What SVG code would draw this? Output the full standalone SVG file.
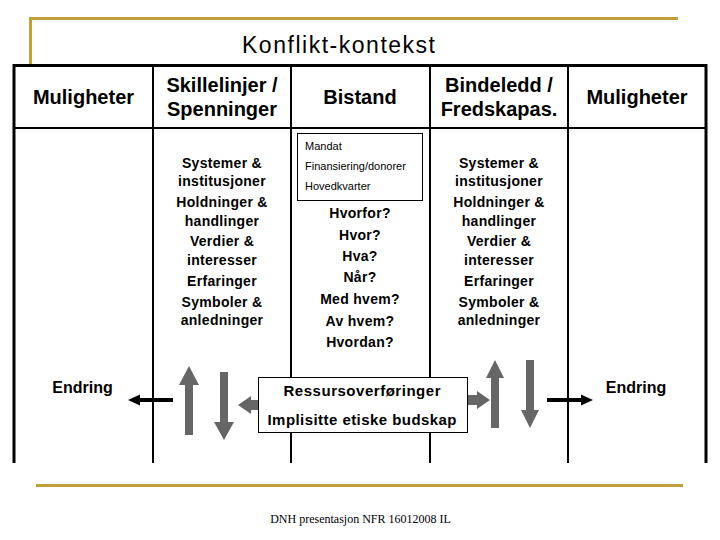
<svg xmlns="http://www.w3.org/2000/svg" width="720" height="540" viewBox="0 0 720 540">
  <style>
    .gold { stroke: #C0A03C; stroke-width: 3; fill: none; }
    .outer { stroke: #000; stroke-width: 3; fill: none; }
    .inner { stroke: #000; stroke-width: 2; fill: none; }
    .title { font-family: "Liberation Sans", Arial, sans-serif; font-size: 23px; fill: #000; text-anchor: middle; }
    .head { font-family: "Liberation Sans", Arial, sans-serif; font-size: 20px; font-weight: bold; fill: #000; text-anchor: middle; }
    .body { font-family: "Liberation Sans", Arial, sans-serif; font-size: 14px; font-weight: bold; fill: #000; text-anchor: middle; letter-spacing: 0.3px; }
    .small { font-family: "Liberation Sans", Arial, sans-serif; font-size: 11px; fill: #000; }
    .lbl { font-family: "Liberation Sans", Arial, sans-serif; font-size: 16px; font-weight: bold; fill: #000; text-anchor: middle; }
    .box-t { font-family: "Liberation Sans", Arial, sans-serif; font-size: 15px; font-weight: bold; fill: #000; text-anchor: middle; }
    .foot { font-family: "Liberation Serif", "Times New Roman", serif; font-size: 12px; fill: #000; text-anchor: middle; }
    .grey { fill: #666666; }
    .blk { fill: #000; }
    .box { fill: #fff; stroke: #000; stroke-width: 1; }
  </style>

  <rect x="0" y="0" width="720" height="540" fill="#fff"/>

  <g id="frame">
    <polyline class="gold" points="30.5,64 30.5,18.5 678,18.5"/>
    <line class="gold" x1="36" y1="485.5" x2="683" y2="485.5"/>
  </g>

  <g id="title">
    <text class="title" x="338.5" y="53" textLength="193" lengthAdjust="spacing">Konflikt-kontekst</text>
  </g>

  <g id="table">
    <polyline class="outer" points="14,463 14,65.5 706,65.5 706,463"/>
    <line class="inner" x1="14" y1="128" x2="706" y2="128"/>
    <line class="inner" x1="153" y1="65.5" x2="153" y2="463"/>
    <line class="inner" x1="291" y1="65.5" x2="291" y2="463"/>
    <line class="inner" x1="430" y1="65.5" x2="430" y2="463"/>
    <line class="inner" x1="568" y1="65.5" x2="568" y2="463"/>
  </g>

  <g id="col-muligheter-left">
    <text class="head" x="83.5" y="104">Muligheter</text>
    <text class="lbl" x="82.5" y="393">Endring</text>
  </g>

  <g id="col-skillelinjer">
    <text class="head" x="222" y="92">Skillelinjer /</text>
    <text class="head" x="222" y="116">Spenninger</text>
    <text class="body" x="222" y="168">Systemer &amp;</text>
    <text class="body" x="222" y="186">institusjoner</text>
    <text class="body" x="222" y="207">Holdninger &amp;</text>
    <text class="body" x="222" y="226">handlinger</text>
    <text class="body" x="222" y="246">Verdier &amp;</text>
    <text class="body" x="222" y="265">interesser</text>
    <text class="body" x="222" y="286">Erfaringer</text>
    <text class="body" x="222" y="307">Symboler &amp;</text>
    <text class="body" x="222" y="325">anledninger</text>
  </g>

  <g id="col-bistand">
    <text class="head" x="360" y="104">Bistand</text>
    <text class="body" x="360" y="218">Hvorfor?</text>
    <text class="body" x="360" y="240">Hvor?</text>
    <text class="body" x="360" y="261">Hva?</text>
    <text class="body" x="360" y="282">Når?</text>
    <text class="body" x="360" y="304">Med hvem?</text>
    <text class="body" x="360" y="326">Av hvem?</text>
    <text class="body" x="360" y="347">Hvordan?</text>
  </g>

  <g id="mandat-box">
    <rect class="box" x="297.5" y="133.5" width="125" height="67"/>
    <text class="small" x="305" y="150">Mandat</text>
    <text class="small" x="305" y="170">Finansiering/donorer</text>
    <text class="small" x="305" y="190">Hovedkvarter</text>
  </g>

  <g id="col-bindeledd">
    <text class="head" x="499" y="92">Bindeledd /</text>
    <text class="head" x="499" y="116">Fredskapas.</text>
    <text class="body" x="499" y="168">Systemer &amp;</text>
    <text class="body" x="499" y="186">institusjoner</text>
    <text class="body" x="499" y="207">Holdninger &amp;</text>
    <text class="body" x="499" y="226">handlinger</text>
    <text class="body" x="499" y="246">Verdier &amp;</text>
    <text class="body" x="499" y="265">interesser</text>
    <text class="body" x="499" y="286">Erfaringer</text>
    <text class="body" x="499" y="307">Symboler &amp;</text>
    <text class="body" x="499" y="325">anledninger</text>
  </g>

  <g id="col-muligheter-right">
    <text class="head" x="637" y="104">Muligheter</text>
    <text class="lbl" x="636" y="393">Endring</text>
  </g>

  <g id="ressurs-box">
    <rect class="box" x="258.5" y="377.5" width="209" height="55"/>
    <text class="box-t" x="362" y="396" textLength="157" lengthAdjust="spacing">Ressursoverføringer</text>
    <text class="box-t" x="362" y="425" textLength="189" lengthAdjust="spacing">Implisitte etiske budskap</text>
  </g>

  <g id="connectors">
    <polygon class="blk" points="173,398 140,398 140,394.5 128,400 140,405.5 140,402 173,402"/>
    <polygon class="blk" points="547,398 581,398 581,394.5 593,400 581,405.5 581,402 547,402"/>
    <polygon class="grey" points="185,435 185,385 179,385 189,366 199,385 193,385 193,435"/>
    <polygon class="grey" points="220,372 228,372 228,422 234,422 224,440 214,422 220,422"/>
    <polygon class="grey" points="491,428 491,378 486,378 495,360 504,378 499,378 499,428"/>
    <polygon class="grey" points="526,360 534,360 534,410 539,410 530,428 521,410 526,410"/>
    <polygon class="grey" points="258,400 251,400 251,396 238,405 251,414 251,410 258,410"/>
    <polygon class="grey" points="468,395 477,395 477,391 490,400 477,409 477,405 468,405"/>
  </g>

  <g id="footer">
    <text class="foot" x="360.5" y="523">DNH presentasjon NFR 16012008 IL</text>
  </g>
</svg>
